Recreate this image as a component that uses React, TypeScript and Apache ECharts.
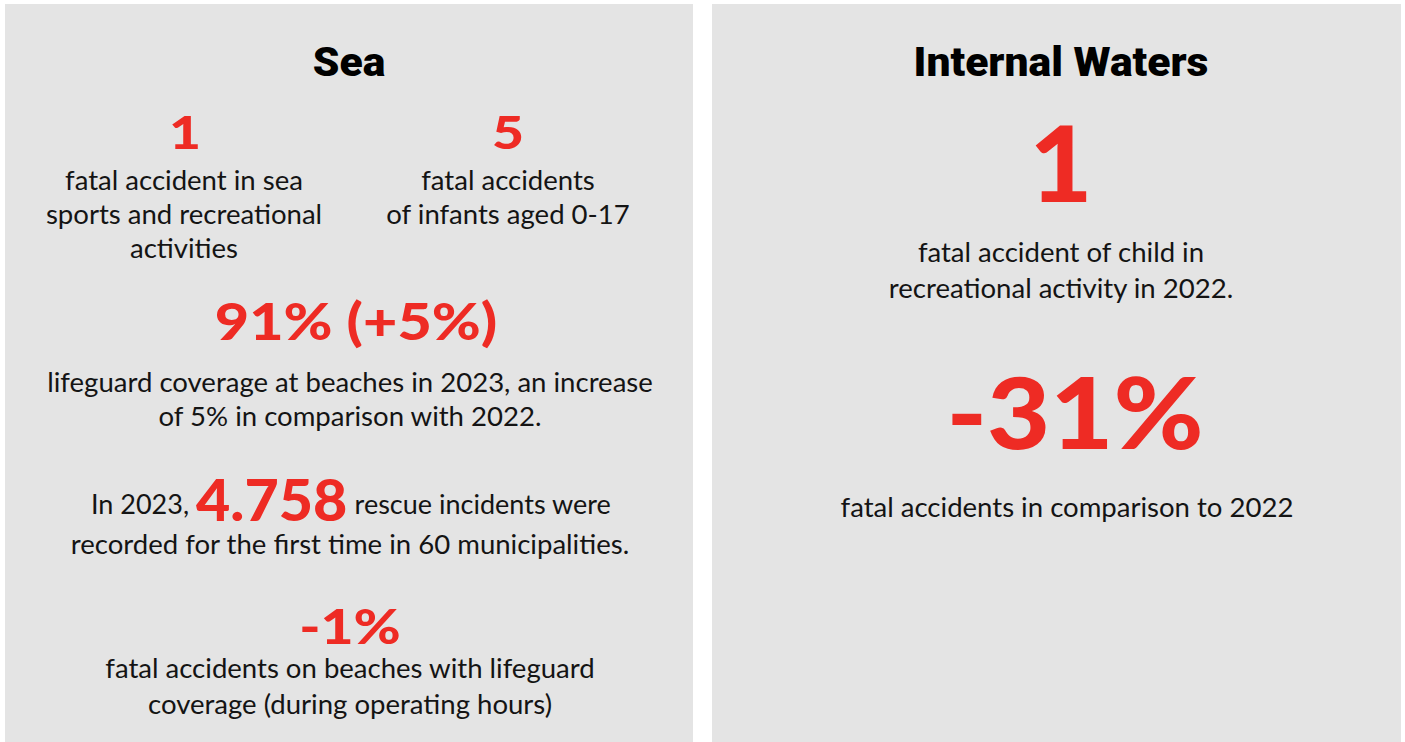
import React, { useEffect, useRef } from "react";
import * as echarts from "echarts";

const panelTitles = ["Sea", "Internal Waters"];
const seaStats = ["1", "5", "91% (+5%)", "4.758", "-1%"];
const seaTexts = [
  ["fatal accident in sea", "sports and recreational", "activities"],
  ["fatal accidents", "of infants aged 0-17"],
  ["lifeguard coverage at beaches in 2023, an increase", "of 5% in comparison with 2022."],
  ["In 2023, ", " rescue incidents were", "recorded for the first time in 60 municipalities."],
  ["fatal accidents on beaches with lifeguard", "coverage (during operating hours)"],
];
const inlandStats = ["1", "-31%"];
const inlandTexts = [
  ["fatal accident of child in", "recreational activity in 2022."],
  ["fatal accidents in comparison to 2022"],
];

const RED = "#ee2b24";
const INK = "#141414";
const BG = "#e4e4e4";
const BODY_FONT = "Lato";
const NUM_FONT = "Lato";
const HEAD_FONT = "Roboto";

export default function App() {
  const ref = useRef<HTMLDivElement>(null);
  useEffect(() => {
    if (!ref.current) return;
    const chart = echarts.init(ref.current, null, { renderer: "svg" });
    const body = (text: string, x: number, y: number, size = 26.5) => ({
      type: "text",
      x,
      y,
      scaleX: 1.04,
      style: {
        text,
        fill: INK,
        font: `400 ${size}px ${BODY_FONT}`,
        align: "center",
        verticalAlign: "middle",
      },
    });
    const num = (text: string, x: number, y: number, size: number, sx = 1.1) => ({
      type: "text",
      x,
      y,
      scaleX: sx,
      style: {
        text,
        fill: RED,
        font: `900 ${size}px ${NUM_FONT}`,
        align: "center",
        verticalAlign: "middle",
      },
    });
    const head = (text: string, x: number, y: number) => ({
      type: "text",
      x,
      y,
      scaleX: 1.04,
      style: {
        text,
        fill: "#000",
        font: `900 41px ${HEAD_FONT}`,
        align: "center",
        verticalAlign: "middle",
      },
    });
    const L = 349;
    const R = 1061;
    const elements: any[] = [
      { type: "rect", shape: { x: 5, y: 4, width: 688, height: 738 }, style: { fill: BG } },
      { type: "rect", shape: { x: 712, y: 4, width: 689, height: 738 }, style: { fill: BG } },
      head(panelTitles[0], L, 62),
      head(panelTitles[1], R, 62),
      num(seaStats[0], 185, 131, 46, 1.2),
      ...seaTexts[0].map((t, i) => body(t, 184, 180 + i * 34)),
      num(seaStats[1], 508, 131, 46, 1.2),
      ...seaTexts[1].map((t, i) => body(t, 508, 180 + i * 34)),
      num(seaStats[2], 356, 320, 52, 1.14),
      ...seaTexts[2].map((t, i) => body(t, 350, 382 + i * 34)),
      {
        type: "text",
        x: 351,
        y: 498,
        scaleX: 1.02,
        style: {
          text: `{a|${seaTexts[3][0]}}{b|${seaStats[3]}}{a|${seaTexts[3][1]}}`,
          align: "center",
          verticalAlign: "middle",
          rich: {
            a: { fill: INK, font: `400 26.5px ${BODY_FONT}`, padding: [12, 0, 0, 0] },
            b: { fill: RED, font: `900 58px ${NUM_FONT}` },
          },
        },
      },
      body(seaTexts[3][2], 350, 544),
      num(seaStats[4], 350, 625, 48, 1.19),
      ...seaTexts[4].map((t, i) => body(t, 350, 668 + i * 36)),
      num(inlandStats[0], R, 162, 104, 1.05),
      ...inlandTexts[0].map((t, i) => body(t, R, 252 + i * 36)),
      num(inlandStats[1], 1075, 410, 100, 1.09),
      ...inlandTexts[1].map((t, i) => body(t, 1067, 507 + i * 36)),
    ];
    chart.setOption({
      animation: false,
      backgroundColor: "#fff",
      graphic: { elements },
    });
    return () => chart.dispose();
  }, []);
  return <div ref={ref} style={{ position: "fixed", left: 0, top: 0, width: 1405, height: 742 }} />;
}
